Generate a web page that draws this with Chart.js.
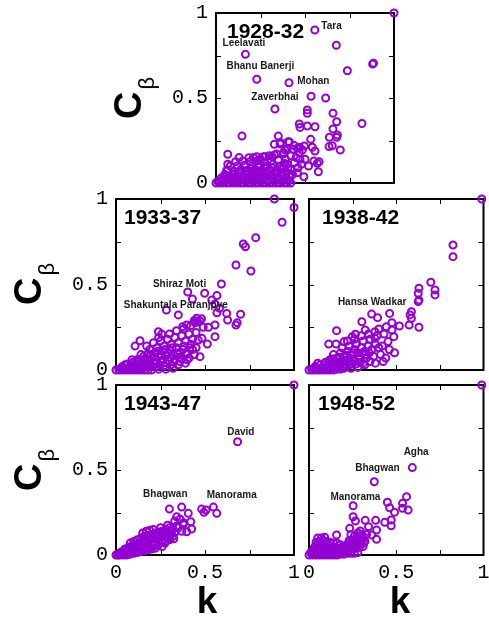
<!DOCTYPE html>
<html>
<head>
<meta charset="utf-8">
<script src="https://cdn.jsdelivr.net/npm/chart.js@4"></script>
<style>
html,body{margin:0;padding:0;background:#fff;}
#wrap{position:relative;width:489px;height:619px;overflow:hidden;background:#fff;}
#wrap canvas{position:absolute;left:0;top:0;}
.cb{position:absolute;transform:translate(-50%,-50%) rotate(-90deg);white-space:nowrap;line-height:1;font-family:"Liberation Sans",Arial,sans-serif;color:#000;}
.cb .c{font-weight:bold;font-size:38px;}
.cb .b{font-size:22px;position:relative;top:13px;margin-left:2px;}
.kx{position:absolute;transform:translateX(-50%);font:bold 37px "Liberation Sans",Arial,sans-serif;line-height:1;color:#000;}
</style>
</head>
<body>
<div id="wrap">
  <canvas id="c1" width="489" height="619"></canvas>
  <canvas id="c2" width="489" height="619"></canvas>
  <canvas id="c3" width="489" height="619"></canvas>
  <canvas id="c4" width="489" height="619"></canvas>
  <canvas id="c5" width="489" height="619"></canvas>
  <div class="cb" style="left:128px;top:98px"><span class="c">C</span><span class="b">β</span></div>
  <div class="cb" style="left:28px;top:284px"><span class="c">C</span><span class="b">β</span></div>
  <div class="cb" style="left:28px;top:470px"><span class="c">C</span><span class="b">β</span></div>
  <div class="kx" style="left:207px;top:582px">k</div>
  <div class="kx" style="left:400px;top:582px">k</div>
</div>
<script>
// ---------- data (k, C_beta) ----------
const periods = ['1928-32', '1933-37', '1938-42', '1943-47', '1948-52'];
const tickLabelValues = [0, 0.5, 1];
const yMinorTicks = [0.25, 0.5, 0.75];
const xMinorTicks = [0.25, 0.5, 0.75];

const p1928 = [
 [1,1],[0.555,0.90],[0.676,0.81],[0.88,0.70],[0.885,0.705],[0.738,0.66],[0.165,0.757],[0.229,0.61],[0.41,0.59],
 [0.534,0.51],[0.616,0.50],[0.331,0.435],[0.513,0.43],[0.513,0.41],[0.657,0.41],[0.678,0.36],[0.468,0.347],
 [0.472,0.327],[0.513,0.335],[0.556,0.331],[0.82,0.35],[0.657,0.318],[0.146,0.276],[0.35,0.276],[0.637,0.269],
 [0.682,0.282],[0.678,0.269],[0.532,0.257],[0.328,0.228],[0.363,0.237],[0.412,0.241],[0.635,0.214],[0.653,0.219],
 [0.698,0.194],[0.496,0.218],[0.541,0.21],[0.388,0.194],[0.434,0.198],[0.457,0.204],[0.485,0.194],[0.556,0.188],
 [0.328,0.165],[0.378,0.17],[0.468,0.178],[0.472,0.139],[0.55,0.129],[0.569,0.116],[0.579,0.125],[0.066,0.11],
 [0.185,0.149],[0.275,0.155],[0.316,0.155],[0.494,0.037],[0.575,0.066],[0.457,0.06],[0.412,0.041],[0.397,0.018],
 [0.066,0.169],[0.066,0.076],[0.228,0.155],[0.266,0.155],[0.36,0.23],[0.406,0.243],
 [0,0],[0.02,0],[0.04,0],[0.06,0],[0.08,0],[0.1,0],[0.12,0],[0.14,0],[0.16,0],[0.18,0],[0.2,0],[0.22,0],[0.24,0],
 [0.26,0],[0.28,0],[0.3,0],[0.32,0],[0.34,0],[0.36,0],[0.38,0],[0.4,0],[0.42,0],
 [0.01,0.01],[0.05,0.01],[0.09,0.012],[0.13,0.01],[0.17,0.01],[0.21,0.012],[0.25,0.01],[0.29,0.012],[0.33,0.01],[0.37,0.01],[0.41,0.015],
 [0.03,0.03],[0.07,0.025],[0.11,0.03],[0.15,0.028],[0.19,0.035],[0.23,0.03],[0.27,0.032],[0.31,0.03],[0.35,0.035],[0.39,0.03],
 [0.05,0.05],[0.09,0.05],[0.13,0.055],[0.17,0.05],[0.21,0.055],[0.25,0.05],[0.29,0.055],[0.33,0.05],[0.37,0.06],[0.43,0.05],
 [0.06,0.075],[0.1,0.07],[0.14,0.08],[0.18,0.075],[0.22,0.08],[0.26,0.075],[0.3,0.08],[0.34,0.075],[0.38,0.085],[0.42,0.08],[0.46,0.09],
 [0.08,0.1],[0.12,0.1],[0.16,0.105],[0.2,0.1],[0.24,0.11],[0.28,0.1],[0.32,0.11],[0.36,0.1],[0.4,0.11],[0.44,0.12],[0.48,0.11],[0.52,0.1],
 [0.11,0.125],[0.15,0.13],[0.19,0.125],[0.23,0.13],[0.27,0.125],[0.31,0.13],[0.35,0.135],[0.39,0.14],[0.45,0.15],[0.5,0.14],
 [0.13,0.15],[0.21,0.15],[0.25,0.14],[0.3,0.16],[0.34,0.17],[0.38,0.18],[0.42,0.16],[0.4,0.2],[0.44,0.22],[0.47,0.21],
 [0.015,0.005],[0.035,0.015],[0.045,0.035],[0.055,0.02],[0.075,0.04],[0.085,0.015],[0.095,0.035],[0.105,0.055],[0.115,0.015],
 [0.125,0.04],[0.135,0.065],[0.145,0.02],[0.155,0.045],[0.165,0.07],[0.175,0.03],[0.185,0.055],[0.195,0.085],[0.205,0.025],
 [0.215,0.07],[0.225,0.045],[0.235,0.095],[0.245,0.03],[0.255,0.065],[0.265,0.04],[0.275,0.09],[0.285,0.02],[0.295,0.07],
 [0.305,0.045],[0.315,0.09],[0.325,0.03],[0.345,0.06],[0.355,0.02],[0.365,0.085],[0.375,0.04],[0.385,0.115],[0.395,0.065],
 [0.405,0.09],[0.415,0.035]
];

const p1933 = [
 [0.89,1.0],[1.0,0.95],[0.933,0.864],[0.785,0.774],[0.715,0.737],[0.727,0.721],[0.674,0.614],[0.758,0.579],[0.592,0.503],
 [0.403,0.456],[0.498,0.449],[0.567,0.435],[0.429,0.415],[0.538,0.409],[0.556,0.386],[0.581,0.361],[0.567,0.335],
 [0.622,0.331],[0.627,0.292],[0.7,0.326],[0.681,0.277],[0.674,0.263],[0.283,0.351],[0.35,0.322],[0.453,0.302],
 [0.472,0.287],[0.444,0.277],[0.397,0.263],[0.375,0.253],[0.49,0.25],[0.519,0.25],[0.556,0.263],[0.556,0.195],
 [0.513,0.152],[0.483,0.185],[0.462,0.175],[0.472,0.078],[0.238,0.224],[0.257,0.21],[0.135,0.171],[0.107,0.14],[0.172,0.14],
 [0,0],[0.02,0],[0.04,0],[0.06,0],[0.08,0],[0.1,0],[0.12,0],[0.14,0],[0.16,0],[0.18,0],[0.2,0],[0.24,0.005],[0.28,0.005],[0.32,0.01],
 [0.03,0.01],[0.07,0.012],[0.11,0.01],[0.15,0.015],[0.19,0.02],[0.23,0.02],[0.27,0.025],[0.31,0.03],[0.35,0.03],[0.39,0.04],
 [0.09,0.03],[0.13,0.035],[0.17,0.04],[0.21,0.045],[0.25,0.05],[0.29,0.055],[0.33,0.06],[0.37,0.065],[0.41,0.07],
 [0.12,0.06],[0.16,0.065],[0.2,0.07],[0.24,0.08],[0.28,0.085],[0.32,0.09],[0.36,0.1],[0.4,0.1],[0.43,0.12],
 [0.14,0.09],[0.18,0.095],[0.22,0.1],[0.26,0.11],[0.3,0.12],[0.34,0.13],[0.38,0.14],[0.42,0.15],
 [0.19,0.12],[0.23,0.13],[0.27,0.14],[0.31,0.15],[0.35,0.16],[0.39,0.17],[0.43,0.18],
 [0.21,0.16],[0.25,0.17],[0.29,0.18],[0.33,0.19],[0.37,0.2],[0.41,0.21],[0.45,0.22],
 [0.24,0.19],[0.3,0.21],[0.34,0.23],[0.38,0.24],[0.42,0.26],[0.46,0.28],[0.44,0.29],[0.48,0.3],
 [0.36,0.05],[0.4,0.06],[0.44,0.09],[0.45,0.13],[0.09,0.06],[0.05,0.03],
 [0.015,0.005],[0.035,0.02],[0.055,0.01],[0.065,0.035],[0.085,0.015],[0.095,0.045],[0.105,0.02],[0.115,0.05],[0.125,0.015],
 [0.135,0.06],[0.145,0.03],[0.155,0.08],[0.165,0.02],[0.175,0.06],[0.185,0.035],[0.195,0.09],[0.205,0.02],[0.215,0.075],
 [0.225,0.04],[0.235,0.11],[0.245,0.03],[0.255,0.09],[0.265,0.06],[0.275,0.12],[0.285,0.04],[0.295,0.1],[0.305,0.07],
 [0.315,0.13],[0.325,0.045],[0.345,0.1],[0.355,0.075],[0.375,0.12],[0.395,0.09],[0.415,0.13]
];

const p1938 = [
 [0.99,1.0],[0.825,0.731],[0.825,0.663],[0.698,0.513],[0.722,0.468],[0.722,0.439],[0.63,0.478],[0.626,0.449],[0.63,0.409],
 [0.626,0.4],[0.587,0.341],[0.579,0.322],[0.587,0.302],[0.574,0.263],[0.63,0.25],[0.462,0.331],[0.393,0.306],[0.359,0.327],
 [0.303,0.282],[0.443,0.253],[0.475,0.277],[0.518,0.257],[0.475,0.234],[0.486,0.195],[0.158,0.23],[0.322,0.234],
 [0.378,0.224],[0.266,0.209],[0.378,0.185],[0.453,0.166],[0.49,0.101],[0.425,0.049],[0.113,0.152],[0.155,0.152],
 [0.201,0.166],[0.248,0.195],
 [0,0],[0.02,0],[0.04,0],[0.06,0],[0.08,0],[0.1,0],[0.12,0],[0.14,0],[0.16,0.005],[0.18,0.005],[0.2,0.01],[0.24,0.01],[0.28,0.015],
 [0.03,0.01],[0.07,0.012],[0.11,0.015],[0.15,0.02],[0.19,0.025],[0.23,0.03],[0.27,0.035],[0.31,0.04],[0.35,0.05],
 [0.09,0.03],[0.13,0.04],[0.17,0.045],[0.21,0.05],[0.25,0.06],[0.29,0.065],[0.33,0.07],[0.37,0.08],[0.41,0.09],
 [0.12,0.06],[0.16,0.07],[0.2,0.08],[0.24,0.09],[0.28,0.1],[0.32,0.11],[0.36,0.12],[0.4,0.13],
 [0.14,0.09],[0.18,0.1],[0.22,0.11],[0.26,0.12],[0.3,0.13],[0.34,0.14],[0.38,0.15],[0.42,0.14],
 [0.19,0.13],[0.23,0.14],[0.27,0.15],[0.31,0.17],[0.35,0.18],[0.39,0.2],[0.43,0.21],
 [0.22,0.17],[0.26,0.18],[0.3,0.2],[0.34,0.21],[0.4,0.24],[0.46,0.12],[0.44,0.07],[0.38,0.04],[0.32,0.03],[0.05,0.04],
 [0.015,0.005],[0.035,0.02],[0.055,0.01],[0.065,0.03],[0.085,0.015],[0.095,0.045],[0.105,0.02],[0.115,0.05],[0.125,0.01],
 [0.135,0.065],[0.145,0.03],[0.155,0.05],[0.165,0.02],[0.175,0.075],[0.185,0.04],[0.195,0.06],[0.205,0.03],[0.215,0.085],
 [0.225,0.05],[0.235,0.07],[0.245,0.035],[0.255,0.1],[0.265,0.05],[0.285,0.08],[0.295,0.045],[0.305,0.1],[0.325,0.09],[0.345,0.1]
];

const p1943 = [
 [1.0,1.0],[0.683,0.666],[0.3,0.27],[0.369,0.282],[0.481,0.27],[0.494,0.251],[0.547,0.282],[0.566,0.245],[0.506,0.265],
 [0.341,0.225],[0.406,0.245],[0.42,0.196],[0.378,0.18],[0.397,0.137],[0.425,0.153],
 [0,0],[0.01,0],[0.02,0],[0.03,0.005],[0.04,0],[0.05,0.01],[0.06,0],[0.07,0.01],[0.08,0.005],[0.1,0.01],[0.12,0.015],
 [0.14,0.02],[0.16,0.025],[0.18,0.03],[0.2,0.035],[0.22,0.04],
 [0.02,0.01],[0.04,0.02],[0.06,0.025],[0.08,0.03],[0.1,0.035],[0.12,0.04],[0.14,0.045],[0.16,0.05],[0.18,0.055],[0.2,0.06],
 [0.22,0.065],[0.24,0.07],[0.26,0.075],[0.28,0.08],[0.3,0.09],
 [0.05,0.035],[0.07,0.045],[0.09,0.055],[0.11,0.06],[0.13,0.07],[0.15,0.075],[0.17,0.08],[0.19,0.09],[0.21,0.095],
 [0.23,0.1],[0.25,0.105],[0.27,0.11],[0.29,0.12],[0.31,0.125],[0.33,0.13],
 [0.08,0.07],[0.1,0.08],[0.12,0.09],[0.14,0.1],[0.16,0.11],[0.18,0.115],[0.2,0.12],[0.22,0.13],[0.24,0.135],[0.26,0.14],
 [0.28,0.15],[0.3,0.16],[0.32,0.155],[0.34,0.17],
 [0.15,0.13],[0.17,0.14],[0.19,0.145],[0.21,0.15],[0.25,0.16],[0.29,0.175],[0.33,0.2],[0.36,0.21],[0.38,0.19],[0.35,0.16],
 [0.37,0.14],[0.3,0.1],[0.26,0.05],[0.32,0.11],
 [0.015,0.005],[0.025,0.015],[0.035,0.01],[0.045,0.025],[0.055,0.02],[0.065,0.035],[0.075,0.02],[0.085,0.045],[0.095,0.03],
 [0.105,0.05],[0.115,0.025],[0.125,0.065],[0.135,0.04],[0.145,0.075],[0.155,0.035],[0.165,0.085],[0.175,0.05],[0.185,0.1],
 [0.195,0.045],[0.205,0.105],[0.215,0.06],[0.225,0.115],[0.235,0.055],[0.245,0.12],[0.255,0.08],[0.265,0.125],[0.275,0.07],
 [0.285,0.135],[0.295,0.11],[0.31,0.14],[0.325,0.095]
];

const p1948 = [
 [0.99,1.0],[0.592,0.514],[0.374,0.431],[0.253,0.29],[0.559,0.343],[0.536,0.304],[0.449,0.31],[0.462,0.278],[0.49,0.251],
 [0.536,0.275],[0.568,0.265],[0.253,0.225],[0.266,0.2],[0.322,0.204],[0.382,0.204],[0.434,0.192],[0.471,0.206],[0.471,0.172],
 [0.341,0.166],[0.387,0.147],[0.359,0.118],[0.387,0.092],[0.233,0.157],[0.294,0.141],[0.158,0.118],
 [0,0],[0.02,0],[0.04,0],[0.06,0],[0.08,0],[0.1,0],[0.12,0],[0.14,0],[0.16,0],[0.18,0.005],[0.2,0.005],[0.22,0.01],
 [0.24,0.01],[0.26,0.01],[0.28,0.015],
 [0.01,0.015],[0.03,0.02],[0.05,0.02],[0.07,0.025],[0.09,0.02],[0.11,0.025],[0.13,0.02],[0.15,0.025],[0.17,0.02],[0.19,0.025],
 [0.21,0.03],[0.23,0.03],[0.25,0.035],[0.27,0.04],[0.29,0.045],[0.31,0.05],
 [0.03,0.045],[0.05,0.05],[0.07,0.055],[0.09,0.05],[0.11,0.055],[0.13,0.05],[0.15,0.045],[0.22,0.055],[0.24,0.06],[0.26,0.065],
 [0.28,0.07],[0.3,0.075],[0.32,0.08],
 [0.04,0.075],[0.06,0.08],[0.08,0.085],[0.1,0.08],[0.12,0.075],[0.14,0.07],[0.23,0.085],[0.25,0.09],[0.27,0.095],[0.29,0.1],
 [0.31,0.11],[0.33,0.12],
 [0.07,0.1],[0.09,0.105],[0.05,0.1],[0.24,0.12],[0.26,0.11],[0.28,0.13],[0.3,0.12],[0.2,0.04],[0.18,0.06],[0.16,0.07],
 [0.015,0.005],[0.025,0.03],[0.035,0.01],[0.045,0.06],[0.055,0.035],[0.065,0.01],[0.075,0.07],[0.085,0.04],[0.095,0.01],
 [0.105,0.065],[0.115,0.04],[0.125,0.01],[0.135,0.035],[0.145,0.01],[0.155,0.03],[0.165,0.01],[0.175,0.04],[0.185,0.015],
 [0.195,0.045],[0.205,0.02],[0.215,0.045],[0.225,0.07],[0.235,0.045],[0.245,0.075],[0.255,0.05],[0.265,0.085],[0.275,0.06],
 [0.285,0.09],[0.295,0.065],[0.305,0.095],[0.315,0.07]
];

// annotation names and the (k, C_beta) location of each label's centre
const notes1928 = [['Tara',0.649,0.924],['Leelavati',0.157,0.822],['Bhanu Banerji',0.249,0.688],['Mohan',0.547,0.601],['Zaverbhai',0.331,0.503]];
const notes1933 = [['Shiraz Moti',0.357,0.504],['Shakuntala Paranjpye',0.336,0.377]];
const notes1938 = [['Hansa Wadkar',0.362,0.398]];
const notes1943 = [['David',0.701,0.721],['Bhagwan',0.277,0.358],['Manorama',0.65,0.352]];
const notes1948 = [['Agha',0.614,0.603],['Bhagwan',0.392,0.509],['Manorama',0.266,0.338]];

// ---------- layout ----------
const W = 489, H = 619;
const YW = 60, XH = 50;   // fixed space reserved for tick labels
const panels = [
  {id:'c1', data:p1928, notes:notes1928, title:periods[0], box:[216,13,394,183], yl:true,  xl:false, tdx:11},
  {id:'c2', data:p1933, notes:notes1933, title:periods[1], box:[116,199,294,370], yl:true,  xl:false, tdx:8},
  {id:'c3', data:p1938, notes:notes1938, title:periods[2], box:[309,199,488,370], yl:false, xl:false, tdx:13},
  {id:'c4', data:p1943, notes:notes1943, title:periods[3], box:[116,385,294,555], yl:true,  xl:true,  tdx:8},
  {id:'c5', data:p1948, notes:notes1948, title:periods[4], box:[309,385,488,555], yl:false, xl:true,  tdx:9}
];

const PURPLE = 'rgb(148,0,211)';

const decor = {
  id: 'panelDecor',
  beforeDatasetsDraw(chart, args, o) {
    const {ctx, chartArea: a, scales: {x, y}} = chart;
    ctx.save();
    ctx.strokeStyle = '#000';
    ctx.lineWidth = 2;
    ctx.strokeRect(a.left, a.top, a.right - a.left, a.bottom - a.top);
    ctx.lineWidth = 1;
    ctx.beginPath();
    yMinorTicks.forEach(v => {
      const py = Math.round(y.getPixelForValue(v)) + 0.5;
      ctx.moveTo(a.left, py); ctx.lineTo(a.left + 5, py);
      ctx.moveTo(a.right, py); ctx.lineTo(a.right - 5, py);
    });
    xMinorTicks.forEach(v => {
      const px = Math.round(x.getPixelForValue(v)) + 0.5;
      ctx.moveTo(px, a.top); ctx.lineTo(px, a.top + 5);
      ctx.moveTo(px, a.bottom); ctx.lineTo(px, a.bottom - 5);
    });
    ctx.stroke();
    ctx.restore();
  },
  afterDraw(chart, args, o) {
    const {ctx, chartArea: a, scales: {x, y}} = chart;
    ctx.save();
    ctx.fillStyle = '#000';
    ctx.font = 'bold 21px "Liberation Sans", Arial, sans-serif';
    ctx.textAlign = 'left';
    ctx.textBaseline = 'alphabetic';
    ctx.fillText(o.title, a.left + o.tdx, a.top + 25);
    ctx.fillStyle = '#1a1a1a';
    ctx.font = 'bold 10px "Liberation Sans", Arial, sans-serif';
    ctx.textAlign = 'center';
    ctx.textBaseline = 'middle';
    o.notes.forEach(([t, kx, cy]) => {
      ctx.fillText(t, x.getPixelForValue(kx), y.getPixelForValue(cy));
    });
    ctx.restore();
  }
};

function fixedFit(s) {
  if (s.isHorizontal()) s.height = XH; else s.width = YW;
  s.paddingLeft = s.paddingRight = s.paddingTop = s.paddingBottom = 0;
}

panels.forEach(p => {
  const [L, T, R, B] = p.box;
  new Chart(document.getElementById(p.id), {
    type: 'scatter',
    data: {
      datasets: [{
        data: p.data.map(([k, c]) => ({x: k, y: c})),
        pointStyle: 'circle',
        pointRadius: 3.5,
        pointHoverRadius: 3.5,
        borderWidth: 2,
        borderColor: PURPLE,
        backgroundColor: 'rgba(0,0,0,0)',
        clip: false
      }]
    },
    plugins: [decor],
    options: {
      responsive: false,
      animation: false,
      devicePixelRatio: 1,
      events: [],
      layout: {padding: {left: L - YW, top: T, right: W - R, bottom: H - B - XH}},
      plugins: {
        legend: {display: false},
        tooltip: {enabled: false},
        panelDecor: {title: p.title, notes: p.notes, tdx: p.tdx}
      },
      scales: {
        x: {
          type: 'linear', min: 0, max: 1,
          grid: {display: false}, border: {display: false},
          afterFit: fixedFit,
          ticks: {
            display: p.xl, stepSize: 0.5, maxRotation: 0, minRotation: 0, padding: -2,
            autoSkip: false,
            color: '#000', font: {family: '"Liberation Mono", monospace', size: 20},
            callback: v => tickLabelValues.includes(v) ? String(v) : ''
          }
        },
        y: {
          type: 'linear', min: 0, max: 1,
          grid: {display: false}, border: {display: false},
          afterFit: fixedFit,
          ticks: {
            display: p.yl, stepSize: 0.5, padding: 0,
            autoSkip: false,
            color: '#000', font: {family: '"Liberation Mono", monospace', size: 20},
            callback: v => tickLabelValues.includes(v) ? String(v) : ''
          }
        }
      }
    }
  });
});
</script>
</body>
</html>
